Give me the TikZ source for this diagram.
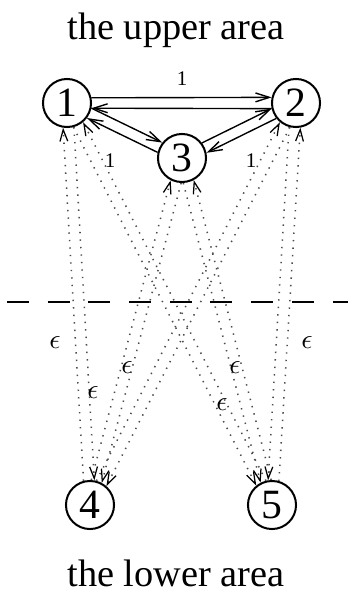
\documentclass[tikz,border=0pt]{standalone}
\usepackage{fontspec}
\setmainfont{Liberation Serif}
\usetikzlibrary{arrows.meta}
\begin{document}
\begin{tikzpicture}[x=0.36pt,y=-0.36pt,
  state/.style={circle,draw,line width=0.72pt,minimum size=17.3pt,inner sep=0pt,font=\fontsize{15}{16}\selectfont},
  solidarr/.style={line width=0.5pt,-{Straight Barb[length=5pt,width=3.2pt,line width=0.5pt]}},
  dotarr/.style={line width=0.55pt,black!70,dash pattern=on 0.5pt off 2.2pt,-{Straight Barb[length=4.2pt,width=2.8pt,line width=0.45pt,black]}},
  wlabel/.style={font=\fontsize{7.5}{8}\selectfont,inner sep=0pt},
  elabel/.style={font=\fontsize{10}{11}\selectfont,inner sep=0pt},
  areatitle/.style={font=\fontsize{13.8}{15}\selectfont,inner sep=0pt}]
\useasboundingbox (0,0) rectangle (348,595);
\node[areatitle] (tu) at (176,30) {the upper area};
\node[areatitle] (tl) at (176,573) {the lower area};
\node[state] (n1) at (67,103) {1};
\node[state] (n2) at (296,103) {2};
\node[state] (n3) at (182,158) {3};
\node[state] (n4) at (90,505) {4};
\node[state] (n5) at (272,505) {5};
% solid connectors
\draw[solidarr] (n1.12.6) -- (n2.167.4);
\draw[solidarr] (n2.-167.4) -- (n1.-12.6);
\draw[solidarr] (n1.-12.6) -- (n3.142.2);
\draw[solidarr] (n3.167.4) -- (n1.-37.8);
\draw[solidarr] (n3.37.9) -- (n2.-167.3);
\draw[solidarr] (n2.-142.1) -- (n3.12.7);
\node[wlabel] (w12) at (182,79) {1};
\node[wlabel] (w13) at (110,161) {1};
\node[wlabel] (w23) at (251,161) {1};
% dashed separator
\draw[line width=0.55pt,dash pattern=on 7.9pt off 6.75pt] (7,302) -- (348,302);
% dotted connectors
\draw[dotarr] (n4.105.9) -- (n1.-99.3);
\draw[dotarr] (n1.-74.1) -- (n4.80.7);
\draw[dotarr] (n1.-75.3) -- (n5.129.9);
\draw[dotarr] (n5.104.7) -- (n1.-50.1);
\draw[dotarr] (n5.74) -- (n2.-80.9);
\draw[dotarr] (n2.-106.1) -- (n5.99.2);
\draw[dotarr] (n2.-104.9) -- (n4.49.9);
\draw[dotarr] (n4.75.1) -- (n2.-130.1);
\draw[dotarr] (n4.87.5) -- (n3.-117.7);
\draw[dotarr] (n3.-92.5) -- (n4.62.3);
\draw[dotarr] (n5.92.1) -- (n3.-62.7);
\draw[dotarr] (n3.-87.9) -- (n5.117.3);
\node[elabel] (e1) at (55,343) {$\epsilon$};
\node[elabel] (e2) at (93,393) {$\epsilon$};
\node[elabel] (e3) at (127,368) {$\epsilon$};
\node[elabel] (e4) at (235,368) {$\epsilon$};
\node[elabel] (e5) at (222,405) {$\epsilon$};
\node[elabel] (e6) at (307,343) {$\epsilon$};
\end{tikzpicture}
\end{document}
